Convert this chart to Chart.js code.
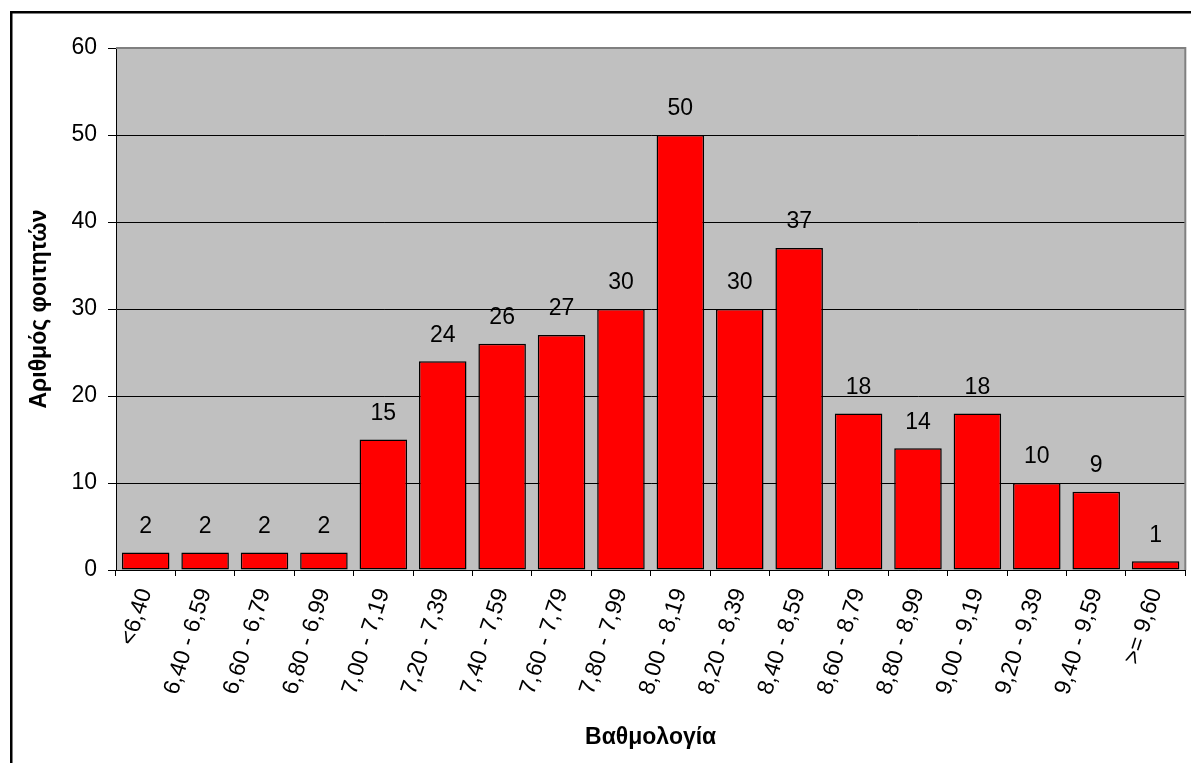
<!DOCTYPE html>
<html>
<head>
<meta charset="utf-8">
<script src="https://cdn.jsdelivr.net/npm/chart.js@4"></script>
<style>
  body { margin: 0; background: #fff; }
  #wrap { width: 1191px; height: 763px; }
</style>
</head>
<body>
<div id="wrap"><canvas id="myChart"></canvas></div>
<script>
// categories (grade ranges) and number of students
const labels = ['<6,40', '6,40 - 6,59', '6,60 - 6,79', '6,80 - 6,99', '7,00 - 7,19', '7,20 - 7,39',
  '7,40 - 7,59', '7,60 - 7,79', '7,80 - 7,99', '8,00 - 8,19', '8,20 - 8,39', '8,40 - 8,59',
  '8,60 - 8,79', '8,80 - 8,99', '9,00 - 9,19', '9,20 - 9,39', '9,40 - 9,59', '>= 9,60'];
const counts = [2, 2, 2, 2, 15, 24, 26, 27, 30, 50, 30, 37, 18, 14, 18, 10, 9, 1];
const yTicks = [0, 10, 20, 30, 40, 50, 60];

const xTitle = 'Βαθμολογία';
const yTitle = 'Αριθμός φοιτητών';

Chart.defaults.font.family = '"Liberation Sans", Arial, sans-serif';
Chart.defaults.font.size = 23;
Chart.defaults.color = '#000';

// grey plot area, grey top/right edge, value labels, outer frame
const frame = {
    id: 'frame',
    beforeDraw(chart) {
        const c = chart.ctx, a = chart.chartArea;
        c.save();
        c.fillStyle = '#C0C0C0';
        c.fillRect(a.left, a.top, a.right - a.left, a.bottom - a.top);
        c.restore();
    },
    beforeDatasetsDraw(chart) {
        const c = chart.ctx, a = chart.chartArea;
        c.save();
        c.strokeStyle = '#808080';
        c.lineWidth = 2;
        c.beginPath();
        c.moveTo(a.left, a.top);
        c.lineTo(a.right, a.top);
        c.lineTo(a.right, a.bottom);
        c.stroke();
        c.restore();
    },
    afterDatasetsDraw(chart) {
        const c = chart.ctx;
        const meta = chart.getDatasetMeta(0);
        c.save();
        c.font = '23px "Liberation Sans", Arial, sans-serif';
        c.fillStyle = '#000';
        c.textAlign = 'center';
        c.textBaseline = 'middle';
        meta.data.forEach((bar, i) => {
            c.fillText(String(counts[i]), bar.x, bar.y - 26);
        });
        c.restore();
    },
    afterDraw(chart) {
        const c = chart.ctx;
        c.save();
        c.strokeStyle = '#000';
        c.lineWidth = 2.5;
        c.strokeRect(11.25, 12.25, 1300, 900);
        c.restore();
    }
};

const ctx = document.getElementById('myChart').getContext('2d');
const myChart = new Chart(ctx, {
    type: 'bar',
    data: {
        labels: labels,
        datasets: [{
            label: yTitle,
            data: counts,
            backgroundColor: '#FF0000',
            borderColor: '#000',
            borderWidth: 1.5,
            borderSkipped: false,
            categoryPercentage: 0.8,
            barPercentage: 1.0
        }]
    },
    options: {
        responsive: true,
        maintainAspectRatio: false,
        animation: false,
        layout: { padding: { top: 48, right: 5, left: 0, bottom: 0 } },
        plugins: {
            legend: { display: false },
            tooltip: { enabled: false }
        },
        scales: {
            x: {
                grid: { drawOnChartArea: false, drawTicks: true, tickLength: 6, color: '#000' },
                border: { color: '#000', width: 1 },
                ticks: { minRotation: 72, maxRotation: 72, autoSkip: false, padding: 9 },
                title: { display: true, text: xTitle, font: { size: 23, weight: 'bold' }, padding: { top: 0, bottom: 12 } },
                afterFit(scale) { scale.height = 193; }
            },
            y: {
                min: 0,
                max: 60,
                afterBuildTicks(scale) { scale.ticks = yTicks.map(v => ({ value: v })); },
                grid: {
                    color: c => (c.tick && c.tick.value === 60 ? '#808080' : '#000'),
                    tickColor: '#000',
                    tickLength: 8
                },
                border: { color: '#000', width: 1 },
                ticks: { padding: 11 },
                title: { display: true, text: yTitle, font: { size: 23, weight: 'bold' }, padding: { top: 26, bottom: 0 } },
                afterFit(scale) { scale.width = 116; }
            }
        }
    },
    plugins: [frame]
});
</script>
</body>
</html>
